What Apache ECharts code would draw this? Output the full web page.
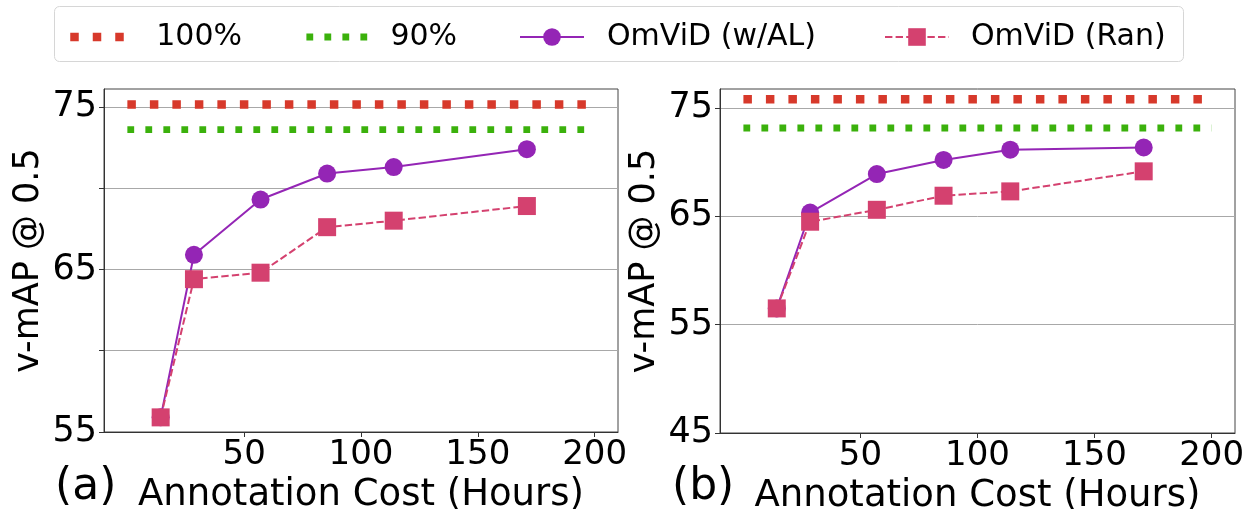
<!DOCTYPE html>
<html>
<head>
<meta charset="utf-8">
<script src="https://cdn.jsdelivr.net/npm/echarts@6/dist/echarts.min.js"></script>
<style>
html,body{margin:0;padding:0;background:#fff;}
#chart{width:1251px;height:509px;}
</style>
</head>
<body>
<div id="chart"></div>
<script>
// ---- data ----
const hours = [14.25, 28.5, 57, 85.5, 114, 171];
const alA = [55.9, 65.9, 69.3, 70.9, 71.3, 72.4];
const ranA = [55.9, 64.4, 64.8, 67.6, 68.0, 68.9];
const alB = [56.5, 65.35, 68.9, 70.2, 71.15, 71.35];
const ranB = [56.5, 64.5, 65.6, 66.9, 67.3, 69.15];
const refX = [0, 200];
const fullA = 75.15, ninetyA = 73.6;
const fullB = 75.8, ninetyB = 73.15;
const xTicks = [50, 100, 150, 200];
const yTicksA = [55, 60, 65, 70, 75];
const yLabelsA = [55, 65, 75];
const yTicksB = [45, 55, 65, 75];
const names = ['100%', '90%', 'OmViD (w/AL)', 'OmViD (Ran)'];
const panelTags = ['(a)', '(b)'];
const xTitle = 'Annotation Cost (Hours)';
const yTitle = 'v-mAP @ 0.5';

const FONT = 'DejaVu Sans';
const C = {red: '#d7392b', green: '#3bb10c', purple: '#9425b5', pink: '#d4416f'};

function pair(xs, ys) { return xs.map((x, i) => [x, ys[i]]); }
function flat(y) { return refX.map(x => [x, y]); }

const grids = [
  {left: 104, top: 89, width: 514, height: 343},
  {left: 720, top: 89, width: 515, height: 344}
];

function xAxis(gi) {
  return {
    type: 'value', gridIndex: gi, min: -10, max: 210,
    axisLine: {show: true, onZero: false, lineStyle: {color: '#333', width: 1}},
    axisTick: {show: true, length: 5, customValues: xTicks, lineStyle: {color: '#333'}},
    axisLabel: {customValues: xTicks, fontFamily: FONT, fontSize: 34, color: '#000', margin: 6},
    splitLine: {show: false},
    name: xTitle, nameLocation: 'middle', nameGap: 42,
    nameTextStyle: {fontFamily: FONT, fontSize: 37, color: '#000'}
  };
}
function yAxis(gi, min, max, interval, ticks, labels) {
  return {
    type: 'value', gridIndex: gi, min: min, max: max, interval: interval,
    axisLine: {show: true, onZero: false, lineStyle: {color: '#333', width: 1}},
    axisTick: {show: true, length: 5, customValues: ticks, lineStyle: {color: '#333'}},
    axisLabel: {customValues: labels, fontFamily: FONT, fontSize: 35, color: '#000', margin: 7},
    splitLine: {show: true, lineStyle: {color: '#a8a8a8', width: 1}},
    name: yTitle, nameLocation: 'middle', nameGap: 58,
    nameTextStyle: {fontFamily: FONT, fontSize: 35, color: '#000'}
  };
}

function refSeries(name, y, gi, color, w, dash) {
  return {
    name: name, type: 'line', xAxisIndex: gi, yAxisIndex: gi,
    data: flat(y), symbol: 'none', silent: true,
    lineStyle: {color: color, width: w, type: dash, cap: 'butt'},
    itemStyle: {color: color}, z: 2
  };
}
function dataSeries(name, ys, gi, color, symbol, dashed) {
  return {
    name: name, type: 'line', xAxisIndex: gi, yAxisIndex: gi,
    data: pair(hours, ys), symbol: symbol, symbolSize: 18,
    lineStyle: {color: color, width: 2, type: dashed ? [7.4, 3.2] : 'solid'},
    itemStyle: {color: color}, z: dashed ? 4 : 3
  };
}

const series = [];
[[fullA, ninetyA, alA, ranA], [fullB, ninetyB, alB, ranB]].forEach((d, gi) => {
  series.push(refSeries(names[0], d[0], gi, C.red, 8.5, [8.5, 14]));
  series.push(refSeries(names[1], d[1], gi, C.green, 6.8, [6.8, 11.2]));
  series.push(dataSeries(names[2], d[2], gi, C.purple, 'circle', false));
  series.push(dataSeries(names[3], d[3], gi, C.pink, 'rect', true));
});

function legend(name, left, pad, lineStyle, itemStyle) {
  return {
    data: [name], left: left, top: 22, padding: 0, orient: 'horizontal',
    itemWidth: 64, itemHeight: 22, selectedMode: false,
    textStyle: {fontFamily: FONT, fontSize: 30, color: '#000', padding: [0, 0, 0, pad]},
    lineStyle: lineStyle, itemStyle: itemStyle
  };
}

const option = {
  animation: false,
  backgroundColor: '#fff',
  textStyle: {fontFamily: FONT},
  grid: grids.map(g => Object.assign({show: true, borderColor: '#444', borderWidth: 1,
    backgroundColor: 'transparent', outerBoundsMode: 'none', containLabel: false}, g)),
  xAxis: [xAxis(0), xAxis(1)],
  yAxis: [
    yAxis(0, 55, 76.1, 5, yTicksA, yLabelsA),
    yAxis(1, 45, 76.75, 10, yTicksB, yTicksB)
  ],
  legend: [
    legend(names[0], 66, 17, {color: C.red, width: 8.5, type: [8.5, 14], cap: 'butt'}, {color: C.red, opacity: 0}),
    legend(names[1], 303, 15, {color: C.green, width: 6.8, type: [6.8, 11.2], cap: 'butt'}, {color: C.green, opacity: 0}),
    legend(names[2], 519, 18, {color: C.purple, width: 2, type: 'solid'}, {color: C.purple}),
    legend(names[3], 884, 17, {color: C.pink, width: 2, type: [7.4, 3.2]}, {color: C.pink})
  ],
  graphic: [
    {type: 'rect', left: 54, top: 6, shape: {width: 1129, height: 55, r: 5}, z: -1,
     style: {fill: '#fff', stroke: '#d6d6d6', lineWidth: 1}},
    {type: 'text', left: 55, top: 466, style: {text: panelTags[0], font: '44px "DejaVu Sans"', fill: '#000'}},
    {type: 'text', left: 672, top: 466, style: {text: panelTags[1], font: '44px "DejaVu Sans"', fill: '#000'}}
  ],
  series: series
};

const chart = echarts.init(document.getElementById('chart'));
chart.setOption(option);
</script>
</body>
</html>
